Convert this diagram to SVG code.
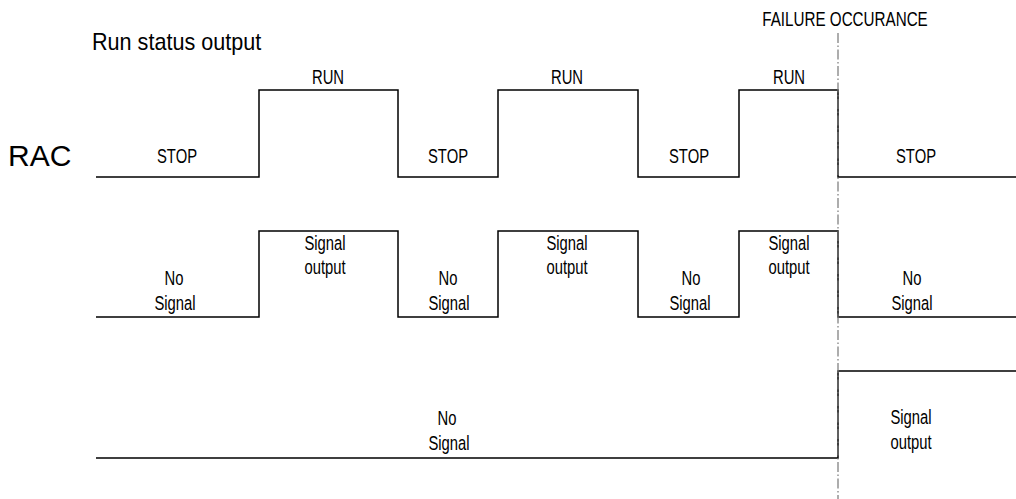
<svg xmlns="http://www.w3.org/2000/svg" width="1016" height="499" viewBox="0 0 1016 499">
<style>
.wave{fill:none;stroke:#000;stroke-width:1.5}
.fail{fill:none;stroke:#777;stroke-width:1.2;stroke-dasharray:10 2.5 1.5 2.5}
.lbl{font-family:"Liberation Sans",Arial,sans-serif;font-size:19.5px;fill:#000;text-anchor:middle}
.big{font-family:"Liberation Sans",Arial,sans-serif;fill:#000}
</style>
<rect width="1016" height="499" fill="#fff"/>
<g id="title"><text class="big" transform="translate(92 50) scale(0.9 1)" font-size="24">Run status output</text></g>
<g id="rac-label"><text class="big" x="8" y="166" font-size="30">RAC</text></g>
<g id="failure-label"><text class="lbl" transform="translate(845 26) scale(0.78 1)">FAILURE OCCURANCE</text></g>
<g id="connectors">
<path id="run-status" class="wave" d="M96 177H259V90H398V177H498V90H638V177H739V90H838V177H1016"/>
<path id="signal-row2" class="wave" d="M96 317H259V231H398V317H498V231H638V317H739V231H838V317H1016"/>
<path id="signal-row3" class="wave" d="M96 458H838V371H1016"/>
<line id="failure-line" class="fail" x1="838" y1="33" x2="838" y2="499"/>
</g>
<g id="row1-labels">
<text class="lbl" transform="translate(177 163) scale(0.76 1)">STOP</text>
<text class="lbl" transform="translate(328 84) scale(0.76 1)">RUN</text>
<text class="lbl" transform="translate(448 163) scale(0.76 1)">STOP</text>
<text class="lbl" transform="translate(567 84) scale(0.76 1)">RUN</text>
<text class="lbl" transform="translate(689 163) scale(0.76 1)">STOP</text>
<text class="lbl" transform="translate(789 84) scale(0.76 1)">RUN</text>
<text class="lbl" transform="translate(916 163) scale(0.76 1)">STOP</text>
</g>
<g id="row2-labels">
<text class="lbl" transform="translate(174 285) scale(0.76 1)">No</text><text class="lbl" transform="translate(175 310) scale(0.76 1)">Signal</text>
<text class="lbl" transform="translate(325 250) scale(0.76 1)">Signal</text><text class="lbl" transform="translate(325 274) scale(0.76 1)">output</text>
<text class="lbl" transform="translate(448 285) scale(0.76 1)">No</text><text class="lbl" transform="translate(449 310) scale(0.76 1)">Signal</text>
<text class="lbl" transform="translate(567 250) scale(0.76 1)">Signal</text><text class="lbl" transform="translate(567 274) scale(0.76 1)">output</text>
<text class="lbl" transform="translate(691 285) scale(0.76 1)">No</text><text class="lbl" transform="translate(690 310) scale(0.76 1)">Signal</text>
<text class="lbl" transform="translate(789 250) scale(0.76 1)">Signal</text><text class="lbl" transform="translate(789 274) scale(0.76 1)">output</text>
<text class="lbl" transform="translate(912 285) scale(0.76 1)">No</text><text class="lbl" transform="translate(912 310) scale(0.76 1)">Signal</text>
</g>
<g id="row3-labels">
<text class="lbl" transform="translate(447 425) scale(0.76 1)">No</text><text class="lbl" transform="translate(449 450) scale(0.76 1)">Signal</text>
<text class="lbl" transform="translate(911 424) scale(0.76 1)">Signal</text><text class="lbl" transform="translate(911 449) scale(0.76 1)">output</text>
</g>
</svg>
